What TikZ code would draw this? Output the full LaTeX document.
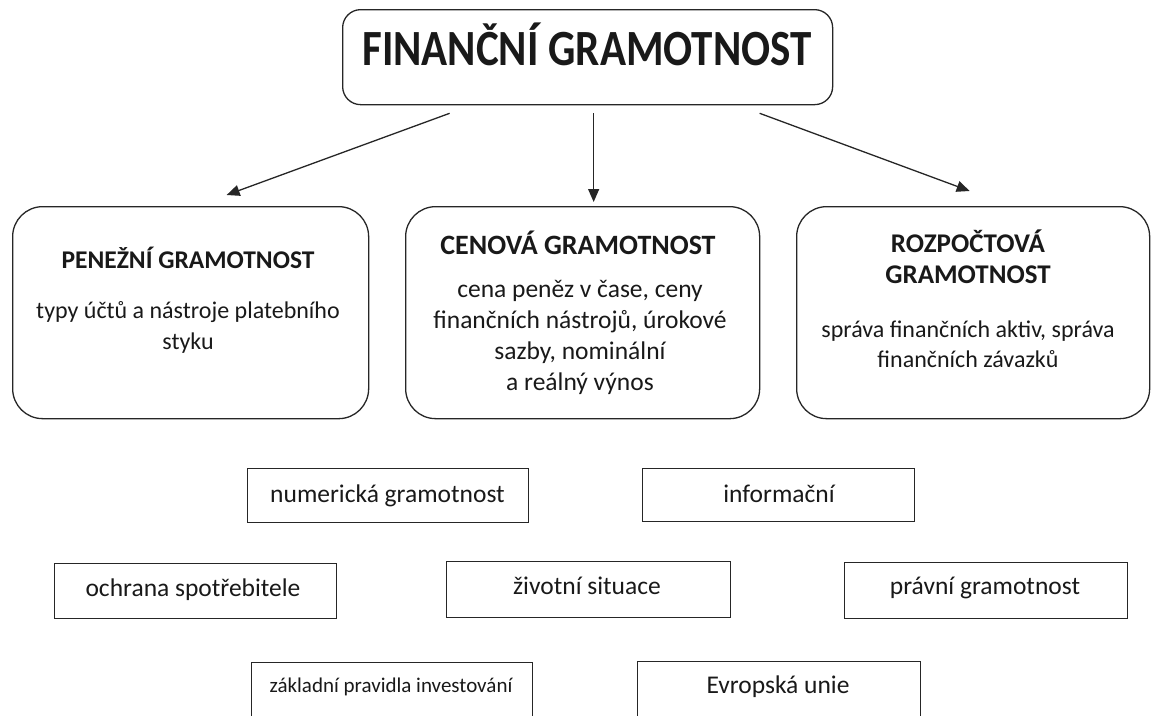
\documentclass[tikz,border=0pt]{standalone}
\usepackage{fontspec}
\setmainfont{Carlito}
\usetikzlibrary{arrows.meta}
\begin{document}
\begin{tikzpicture}[x=1pt,y=-1pt,
  rbox/.style={draw=black!85,line width=1.3pt,rounded corners=30pt,anchor=north west,inner sep=0pt},
  tbox/.style={draw=black!85,line width=1.3pt,anchor=north west,inner sep=0pt},
  txt/.style={anchor=base,inner sep=0pt,text=black!90,font=\fontsize{25.5}{31}\selectfont},
  txtb/.style={anchor=base,inner sep=0pt,text=black!90,font=\fontsize{24}{30}\selectfont},
  hd/.style={anchor=base,inner sep=0pt,text=black!90,font=\fontsize{25.5}{31}\selectfont\bfseries},
  hdl/.style={anchor=base,inner sep=0pt,text=black!90,font=\fontsize{28}{33}\selectfont\bfseries},
  small/.style={anchor=base,inner sep=0pt,text=black!90,font=\fontsize{21}{25}\selectfont},
  arr/.style={draw=black!85,line width=1.3pt,-{Triangle[length=13pt,width=11pt]}}
]
\useasboundingbox (0,0) rectangle (1151,715);
\clip (0,0) rectangle (1151,715);

% top
\node[rbox,minimum width=490pt,minimum height=95pt,rounded corners=18pt] (top) at (342,9) {};
\node[anchor=base,inner sep=0pt,text=black!90,font=\fontsize{43}{50}\selectfont\bfseries] (toptxt) at (587,65) {\scalebox{1}[1.18]{FINANČNÍ GRAMOTNOST}};

% three rounded boxes
\node[rbox,minimum width=356pt,minimum height=212pt] (pen) at (12,206) {};
\node[rbox,minimum width=354pt,minimum height=212pt] (cen) at (405,206) {};
\node[rbox,minimum width=353pt,minimum height=212pt] (roz) at (796,206) {};

\node[hd] (penh) at (188,268) {PENEŽNÍ GRAMOTNOST};
\node[txtb] (pen1) at (188,318) {typy účtů a nástroje platebního};
\node[txtb] (pen2) at (188,349) {styku};

\node[hdl] (cenh) at (578,254) {CENOVÁ GRAMOTNOST};
\node[txt] (cen1) at (580,297) {cena peněz v čase, ceny};
\node[txt] (cen2) at (580,328) {finančních nástrojů, úrokové};
\node[txt] (cen3) at (580,359) {sazby, nominální};
\node[txt] (cen4) at (580,390) {a reálný výnos};

\node[hdl,font=\fontsize{27}{32}\selectfont\bfseries] (rozh1) at (968,252) {ROZPOČTOVÁ};
\node[hdl,font=\fontsize{27}{32}\selectfont\bfseries] (rozh2) at (968,283) {GRAMOTNOST};
\node[txtb] (roz1) at (968,337) {správa finančních aktiv, správa};
\node[txtb] (roz2) at (968,367) {finančních závazků};

% arrows
\draw[arr] ([xshift=-138pt,yshift=-8pt]top.south) -- ([xshift=36pt,yshift=11pt]pen.north);
\draw[arr] ([xshift=6pt,yshift=-8pt]top.south) -- ([xshift=11pt,yshift=4pt]cen.north);
\draw[arr] ([xshift=172pt,yshift=-8pt]top.south) -- ([xshift=-3.5pt,yshift=15pt]roz.north);

% rectangles
\node[tbox,minimum width=281pt,minimum height=54pt] (num) at (247,468) {};
\node[txt] (numt) at (387.5,502) {numerická gramotnost};
\node[tbox,minimum width=272pt,minimum height=53pt] (inf) at (642,468) {};
\node[txt] (inft) at (779,502) {informační};

\node[tbox,minimum width=282pt,minimum height=55pt] (och) at (54,563) {};
\node[txt] (ocht) at (193,596) {ochrana spotřebitele};
\node[tbox,minimum width=284pt,minimum height=56pt] (ziv) at (446,561) {};
\node[txt] (zivt) at (587,594) {životní situace};
\node[tbox,minimum width=283pt,minimum height=56pt] (pra) at (844,562) {};
\node[txt] (prat) at (985,594) {právní gramotnost};

\node[tbox,minimum width=281pt,minimum height=80pt] (zak) at (251,662) {};
\node[small] (zakt) at (391,692) {základní pravidla investování};
\node[tbox,minimum width=283pt,minimum height=80pt] (evr) at (637,661) {};
\node[txt] (evrt) at (778,693) {Evropská unie};
\end{tikzpicture}
\end{document}
